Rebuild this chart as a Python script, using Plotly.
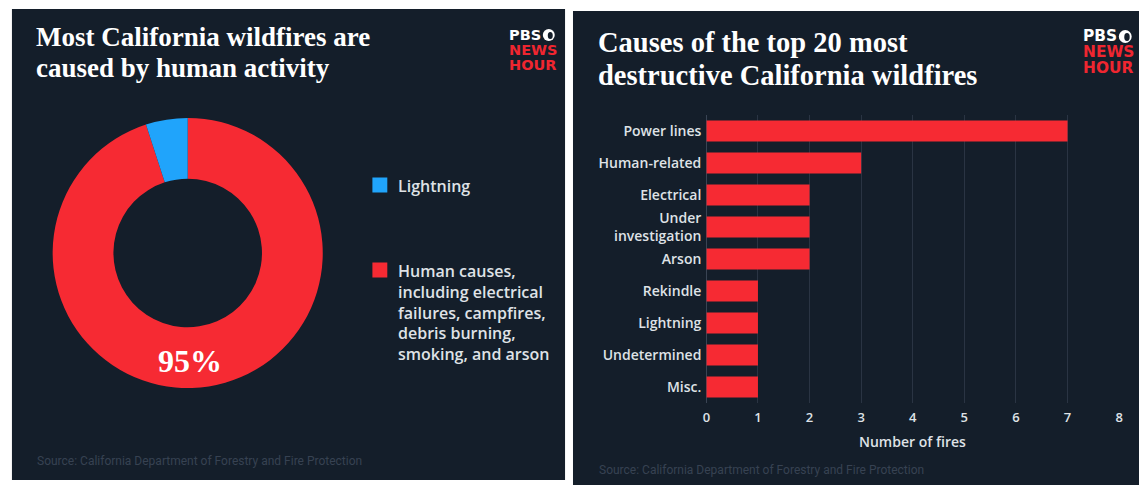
import plotly.graph_objects as go

W, H = 1143, 485

# ---- data -------------------------------------------------------------
cause_labels = ["Human causes", "Lightning"]
cause_share = [95, 5]
legend_labels = ["Lightning", "Human causes"]
legend_text = [
    "Lightning",
    "Human causes,<br>including electrical<br>failures, campfires,<br>debris burning,<br>smoking, and arson",
]

top20_causes = ["Power lines", "Human-related", "Electrical", "Under<br>investigation",
                "Arson", "Rekindle", "Lightning", "Undetermined", "Misc."]
top20_counts = [7, 3, 2, 2, 2, 1, 1, 1, 1]
x_ticks = [0, 1, 2, 3, 4, 5, 6, 7, 8]

# ---- style ------------------------------------------------------------
BG = "#141e2a"
RED = "#f62a33"
BLUE = "#20a4fb"
TXT = "#dfe2e6"
SRC = "#374252"
SERIF = "Liberation Serif"
SANS = "Open Sans"
LOGO = "DejaVu Sans"
slice_color = {"Human causes": RED, "Lightning": BLUE}


def fx(x):
    return x / W


def fy(y):
    return 1 - y / H


fig = go.Figure()

# donut: human share runs clockwise from 12 o'clock, lightning closes the ring
fig.add_trace(go.Pie(
    labels=cause_labels,
    values=cause_share,
    marker=dict(colors=[slice_color[c] for c in cause_labels], line=dict(width=0)),
    hole=0.55,
    sort=False,
    direction="clockwise",
    rotation=0,
    textinfo="none",
    hoverinfo="label+percent",
    showlegend=False,
    domain=dict(x=[fx(49), fx(321)], y=[fy(389), fy(117)]),
))

# horizontal bars
fig.add_trace(go.Bar(
    x=top20_counts,
    y=top20_causes,
    orientation="h",
    marker=dict(color=RED, line=dict(width=0)),
    showlegend=False,
    xaxis="x",
    yaxis="y",
))

shapes = [
    dict(type="rect", xref="paper", yref="paper", x0=fx(8), x1=fx(565), y0=fy(480), y1=fy(9),
         fillcolor=BG, line=dict(width=0), layer="below"),
    dict(type="rect", xref="paper", yref="paper", x0=fx(573), x1=fx(1143), y0=fy(485), y1=fy(11),
         fillcolor=BG, line=dict(width=0), layer="below"),
]

annotations = []


def note(text, x, y, size, color=TXT, family=SANS, weight="normal", xanchor="left", yanchor="middle", align="left"):
    annotations.append(dict(
        text=text, x=fx(x), y=fy(y), xref="paper", yref="paper", showarrow=False,
        xanchor=xanchor, yanchor=yanchor, align=align,
        font=dict(family=family, size=size, color=color, weight=weight),
    ))


def logo(x, y_mid, size, step, circle_d):
    note("PBS", x, y_mid, size, color="#ffffff", family=LOGO, weight="bold")
    note("NEWS", x, y_mid + step, size, color="#ef2630", family=LOGO, weight="bold")
    note("HOUR", x, y_mid + 2 * step, size, color="#ef2630", family=LOGO, weight="bold")
    cx = x + 3 + size * 2.25 + circle_d / 2
    cy = y_mid
    shapes.append(dict(type="circle", xref="paper", yref="paper",
                       x0=fx(cx - circle_d / 2), x1=fx(cx + circle_d / 2),
                       y0=fy(cy + circle_d / 2), y1=fy(cy - circle_d / 2),
                       fillcolor="#ffffff", line=dict(width=0)))
    shapes.append(dict(type="circle", xref="paper", yref="paper",
                       x0=fx(cx - 1), x1=fx(cx + circle_d / 2 - 2),
                       y0=fy(cy + circle_d / 2 - 2), y1=fy(cy - circle_d / 2 + 3),
                       fillcolor=BG, line=dict(width=0)))


# left panel text
note("Most California wildfires are", 30, 37, 27, color="#ffffff", family=SERIF, weight="bold")
note("caused by human activity", 30, 68, 27, color="#ffffff", family=SERIF, weight="bold")
logo(507, 35, 14.5, 15, 12)
note(f"{cause_share[0]}%", 187, 361, 32, color="#ffffff", family=SERIF, weight="bold", xanchor="center")

# legend: swatch + label block
legend_top = [185, 270]
for label, text, y0 in zip(legend_labels, legend_text, legend_top):
    shapes.append(dict(type="rect", xref="paper", yref="paper", x0=fx(371), x1=fx(386),
                       y0=fy(y0 + 7.5), y1=fy(y0 - 7.5),
                       fillcolor=slice_color[label], line=dict(width=0)))
    note(text, 395, y0 - 12, 16, weight=600, yanchor="top")

note("Source: California Department of Forestry and Fire Protection", 31, 461, 12, color=SRC, family="Roboto")

# right panel text
note("Causes of the top 20 most", 596, 42, 28.5, color="#ffffff", family=SERIF, weight="bold")
note("destructive California wildfires", 596, 75, 28.5, color="#ffffff", family=SERIF, weight="bold")
logo(1085, 36.5, 15.4, 15.8, 13)
note("Number of fires", 915, 441, 14, weight=600, xanchor="center")
note("Source: California Department of Forestry and Fire Protection", 597, 470, 12, color=SRC, family="Roboto")

fig.update_layout(
    width=W, height=H,
    margin=dict(l=0, r=0, t=0, b=0),
    paper_bgcolor="#ffffff",
    plot_bgcolor="rgba(0,0,0,0)",
    bargap=0.34,
    shapes=shapes,
    annotations=annotations,
    xaxis=dict(
        domain=[fx(707.3), fx(1123)],
        range=[0, 8],
        tickvals=x_ticks,
        showgrid=True, gridcolor="#2a3443", gridwidth=1,
        zeroline=True, zerolinecolor="#3a4454", zerolinewidth=1,
        showline=False, ticks="",
        tickfont=dict(family=SANS, size=13, color=TXT, weight=600),
        ticklabelstandoff=5,
        fixedrange=True,
    ),
    yaxis=dict(
        domain=[fy(403), fy(115)],
        autorange="reversed",
        type="category",
        showgrid=False, zeroline=False, showline=False, ticks="",
        tickfont=dict(family=SANS, size=14, color=TXT, weight=600),
        ticklabelstandoff=4,
        fixedrange=True,
    ),
)

fig.write_html("out.html")
